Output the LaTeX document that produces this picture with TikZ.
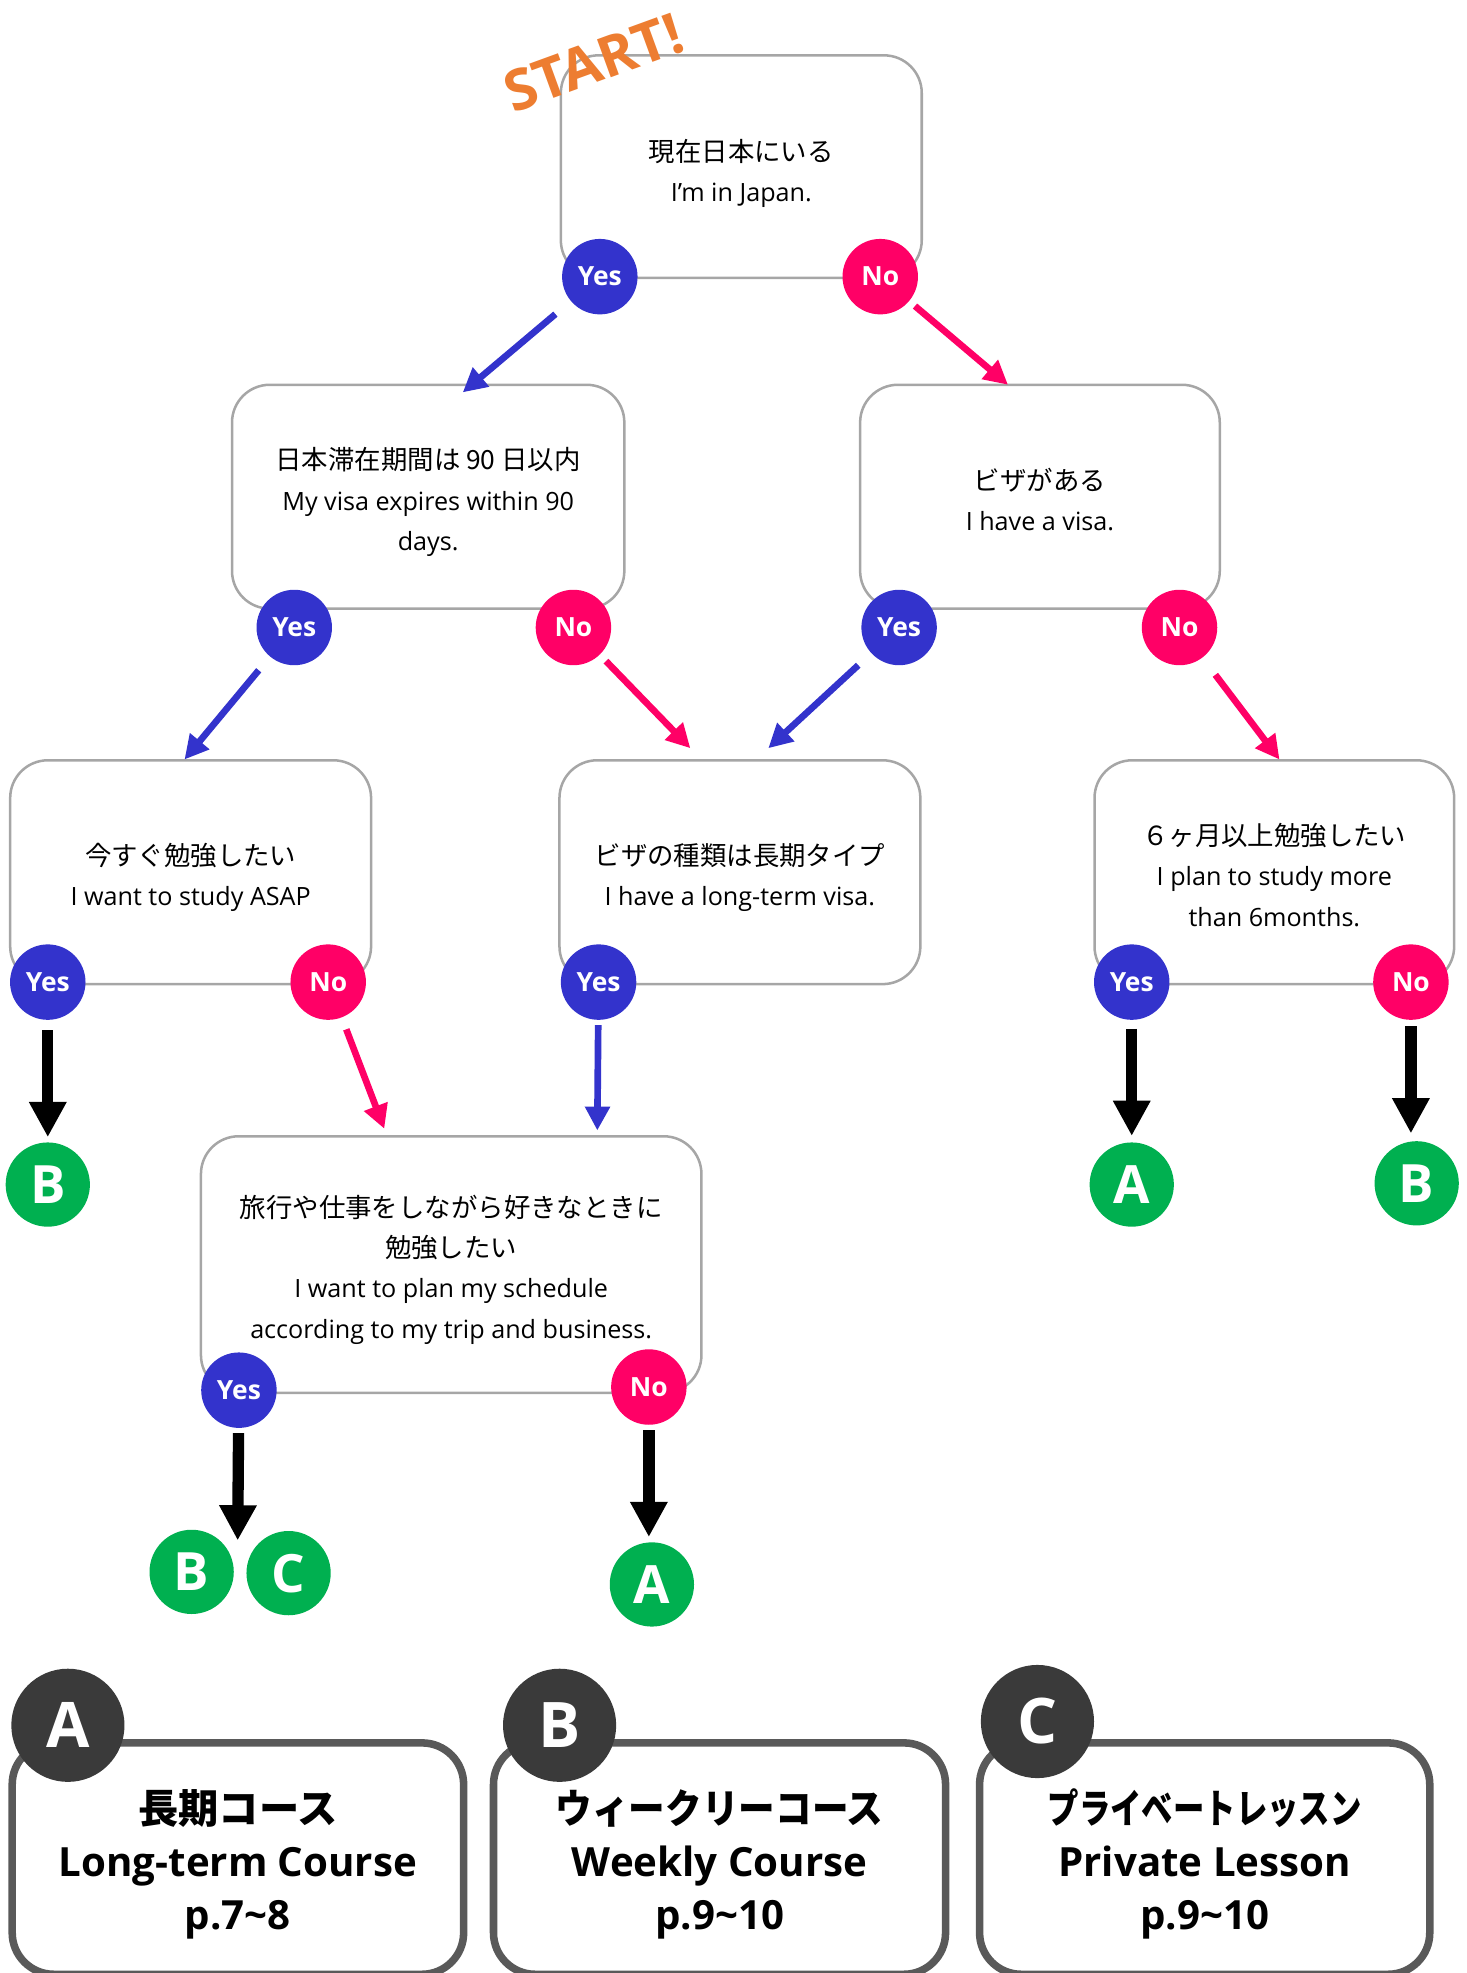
\documentclass[tikz,border=0pt]{standalone}
\usepackage{fontspec}
\usepackage{xcolor}
\setmainfont{Open Sans}
\newfontfamily\jp{Noto Sans CJK JP}[Scale=1.05]
\newfontfamily\jpc{Noto Sans CJK JP}
\usetikzlibrary{arrows.meta}
\usetikzlibrary{positioning}

\definecolor{yescol}{HTML}{3333CC}
\definecolor{nocol}{HTML}{FF0066}
\definecolor{goalcol}{HTML}{00B050}
\definecolor{startcol}{HTML}{ED7D31}
\definecolor{framegray}{HTML}{A6A6A6}
\definecolor{cardgray}{HTML}{595959}
\definecolor{darkdisc}{HTML}{3A3A3A}

\tikzset{
    qbox/.style={draw=framegray, line width=2pt, rounded corners=30pt, align=center,
        font=\fontsize{20}{32}\selectfont},
    yesdot/.style={circle, fill=yescol, text=white, minimum size=60pt, inner sep=0pt,
        font=\bfseries\fontsize{21}{21}\selectfont},
    nodot/.style={yesdot, fill=nocol},
    goal/.style={circle, fill=goalcol, text=white, minimum size=67pt, inner sep=0pt,
        font=\bfseries\fontsize{42}{42}\selectfont},
    card/.style={draw=cardgray, line width=6pt, rounded corners=33pt, minimum height=184pt,
        align=center, text height=120pt, font=\bfseries\fontsize{32}{42}\selectfont},
    disc/.style={circle, fill=darkdisc, text=white, minimum size=90pt, inner sep=0pt,
        font=\bfseries\fontsize{50}{50}\selectfont},
    bluearrow/.style={draw=yescol, line width=5.3pt, -{Triangle[length=19pt, width=19pt]}},
    pinkarrow/.style={bluearrow, draw=nocol},
    blackarrow/.style={draw=black, line width=9pt, -{Triangle[length=28pt, width=28pt]}}
}

\begin{document}
\begin{tikzpicture}[x=1pt, y=-1pt]
    \useasboundingbox (0,0) rectangle (1166,1569);

    % questions
    \node[qbox, minimum width=287pt, minimum height=177pt, text height=60pt] (q1) at (589.5,132.5)
        {{\jp 現在日本にいる}\\I’m in Japan.};
    \node[qbox, minimum width=312pt, minimum height=178pt, text height=90pt] (q2) at (340.5,395)
        {{\jp 日本滞在期間は 90 日以内}\\My visa expires within 90\\days.};
    \node[qbox, minimum width=286pt, minimum height=178pt, text height=54pt] (q3) at (827,395)
        {{\jp ビザがある}\\I have a visa.};
    \node[qbox, minimum width=287pt, minimum height=178pt, text height=58pt] (q4) at (151.6,693.6)
        {{\jp 今すぐ勉強したい}\\I want to study ASAP};
    \node[qbox, minimum width=287pt, minimum height=178pt, text height=58pt] (q5) at (588.4,693.6)
        {{\jp ビザの種類は長期タイプ}\\I have a long-term visa.};
    \node[qbox, minimum width=286pt, minimum height=178pt, text height=86pt] (q6) at (1013.4,693.6)
        {{\jp ６ヶ月以上勉強したい}\\I plan to study more\\than 6months.};
    \node[qbox, minimum width=398pt, minimum height=204pt, text height=122pt] (q7) at (358.8,1005.6)
        {{\jp 旅行や仕事をしながら好きなときに}\\{\jp 勉強したい}\\I want to plan my schedule\\according to my trip and business.};

    \node[text=startcol, rotate=20, font=\bfseries\fontsize{45}{45}\selectfont] (start) at (472,50) {START!};

    % answers
    \node[yesdot] (y1) at (477,220) {Yes};
    \node[nodot]  (n1) at (700,220) {No};
    \node[yesdot] (y2) at (234,499) {Yes};
    \node[nodot]  (n2) at (456,499) {No};
    \node[yesdot] (y3) at (715,499) {Yes};
    \node[nodot]  (n3) at (938,499) {No};
    \node[yesdot] (y4) at (38,781) {Yes};
    \node[nodot]  (n4) at (261,781) {No};
    \node[yesdot] (y5) at (476,781) {Yes};
    \node[yesdot] (y6) at (900,781) {Yes};
    \node[nodot]  (n6) at (1122,781) {No};
    \node[yesdot] (y7) at (190,1105.5) {Yes};
    \node[nodot]  (n7) at (516,1103) {No};

    % goals
    \node[goal] (gB1) at (38,942) {B};
    \node[goal] (gA1) at (900,942) {A};
    \node[goal] (gB2) at (1126.6,941) {B};
    \node[goal] (gB3) at (152.4,1250) {B};
    \node[goal] (gC)  at (229.5,1251) {C};
    \node[goal] (gA2) at (518.4,1260) {A};

    % arrow ends on the boxes
    \coordinate (q2in) at (368,312);
    \coordinate (q3in) at (801.6,306);
    \coordinate (q4in) at (146.7,604);
    \coordinate (q5inL) at (549,595);
    \coordinate (q5inR) at (611,595);
    \coordinate (q6in) at (1017.5,604);
    \coordinate (q7inL) at (305.6,897.6);
    \coordinate (q7inR) at (475,899);
    \coordinate (bcTip) at (189,1225);

    \draw[bluearrow, shorten <=16pt] (y1) -- (q2in);
    \draw[pinkarrow, shorten <=6pt] (n1) -- (q3in);
    \draw[bluearrow, shorten <=14pt] (y2) -- (q4in);
    \draw[pinkarrow, shorten <=7pt] (n2) -- (q5inL);
    \draw[bluearrow, shorten <=14pt] (y3) -- (q5inR);
    \draw[pinkarrow, shorten <=17pt] (n3) -- (q6in);
    \draw[pinkarrow, shorten <=10pt] (n4) -- (q7inL);
    \draw[bluearrow, shorten <=4pt] (y5) -- (q7inR);

    \draw[blackarrow, shorten <=8pt, shorten >=4pt] (y4) -- (y4 |- gB1.north);
    \draw[blackarrow, shorten <=7pt, shorten >=5pt] (y6) -- (y6 |- gA1.north);
    \draw[blackarrow, shorten <=5pt, shorten >=6pt] (n6) -- (n6 |- gB2.north);
    \draw[blackarrow, shorten <=4pt] (y7) -- (bcTip);
    \draw[blackarrow, shorten <=4pt, shorten >=4pt] (n7) -- (n7 |- gA2.north);

    % courses
    \node[card, minimum width=359pt] (cA) at (189.2,1478)
        {{\jpc 長期コース}\\Long-term Course\\p.7\textasciitilde 8};
    \node[card, minimum width=359.5pt] (cB) at (572.2,1478)
        {{\jpc\addfontfeatures{FakeStretch=0.91}ウィークリーコース}\\Weekly Course\\p.9\textasciitilde 10};
    \node[card, minimum width=358pt] (cC) at (958,1478)
        {{\jpc\addfontfeatures{FakeStretch=0.78}プライベートレッスン}\\Private Lesson\\p.9\textasciitilde 10};
    \node[disc] (dA) at (54,1372) {A};
    \node[disc] (dB) at (445,1372) {B};
    \node[disc] (dC) at (825,1369) {C};
\end{tikzpicture}
\end{document}
